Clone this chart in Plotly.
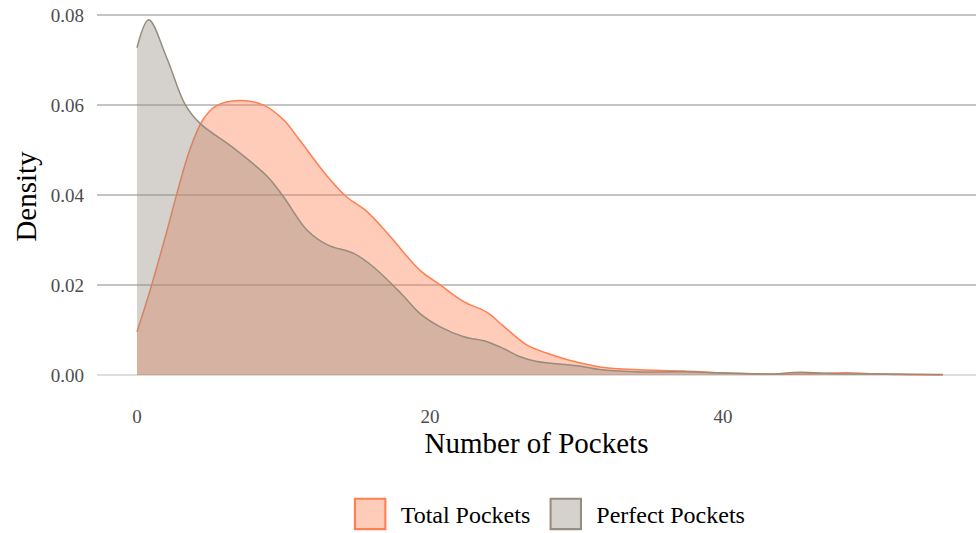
import plotly.graph_objects as go

total_x = [0, 0.9, 2, 2.7, 3.6, 4.5, 5.4, 7, 8.6, 10, 11.1, 13, 14.3, 15.7, 17.3, 19.3, 20.7, 22.3, 23.9, 25.0, 26.6, 28.4, 30.2, 31.6, 33.9, 37.3, 39.6, 43, 45.3, 47, 48.5, 50, 52, 55]
total_y = [0.0096, 0.0189, 0.0315, 0.04, 0.05, 0.0567, 0.0598, 0.061, 0.06, 0.0567, 0.0522, 0.0441, 0.0396, 0.0363, 0.0307, 0.0233, 0.02, 0.0163, 0.0139, 0.0109, 0.0067, 0.0044, 0.0027, 0.0018, 0.0012, 0.0009, 0.0005, 0.0002, 0.0002, 0.0004, 0.0005, 0.0003, 0.0001, 0.0]

perfect_x = [0, 0.8, 2, 3.3, 4.3, 6.6, 8.9, 10, 11.6, 13, 14.8, 16.1, 18, 19.3, 20.7, 22.3, 23.9, 25.0, 26.1, 27.3, 30.2, 31.6, 33.9, 37.3, 39.6, 43, 45.3, 47.6, 51.6, 55]
perfect_y = [0.0727, 0.0789, 0.0707, 0.06, 0.0559, 0.0504, 0.0441, 0.0396, 0.0322, 0.0289, 0.027, 0.0241, 0.0182, 0.0137, 0.0107, 0.0085, 0.0074, 0.0059, 0.0041, 0.003, 0.002, 0.0012, 0.0007, 0.0007, 0.0005, 0.0002, 0.0006, 0.0003, 0.0002, 0.0001]

x_ticks = [0, 20, 40]
y_ticks = [0.0, 0.02, 0.04, 0.06, 0.08]
y_tick_labels = ["0.00", "0.02", "0.04", "0.06", "0.08"]

FONT = "Liberation Serif"
ORANGE = "#FF7F50"
ORANGE_FILL = "rgba(255,127,80,0.4)"
GRAY = "#968C7F"
GRAY_FILL = "rgba(150,140,127,0.4)"

fig = go.Figure()
fig.add_trace(go.Scatter(
    x=total_x, y=total_y, name="Total Pockets", mode="lines", showlegend=False,
    line=dict(color=ORANGE, width=1.5, shape="spline", smoothing=1.0),
    fill="tozeroy", fillcolor=ORANGE_FILL,
))
fig.add_trace(go.Scatter(
    x=perfect_x, y=perfect_y, name="Perfect Pockets", mode="lines", showlegend=False,
    line=dict(color=GRAY, width=1.5, shape="spline", smoothing=1.0),
    fill="tozeroy", fillcolor=GRAY_FILL,
))
# legend keys (square swatches like the reference)
for name, fc, lc in [("Total Pockets", ORANGE_FILL, ORANGE), ("Perfect Pockets", GRAY_FILL, GRAY)]:
    fig.add_trace(go.Scatter(
        x=[None], y=[None], name=name, mode="markers",
        marker=dict(symbol="square", size=16, color=fc, line=dict(color=lc, width=1.1)),
    ))

fig.update_layout(
    width=976, height=533,
    margin=dict(l=97, r=0, t=0, b=140),
    plot_bgcolor="white", paper_bgcolor="white",
    font=dict(family=FONT, color="black"),
    showlegend=True,
    legend=dict(orientation="h", xref="container", yref="container",
                x=0.348, xanchor="left", y=0.035, yanchor="middle",
                font=dict(family=FONT, size=24, color="black"), itemwidth=51,
                tracegroupgap=0),
    xaxis=dict(
        range=[-2.73, 57.27], tickvals=x_ticks, showgrid=False, zeroline=False,
        showline=False, ticks="", ticklabelstandoff=10, automargin=False,
        tickfont=dict(family=FONT, size=19, color="#4D4D4D"),
        title=dict(text="Number of Pockets", font=dict(family=FONT, size=29, color="black"), standoff=4),
    ),
    yaxis=dict(
        range=[-0.004, 0.0833], tickvals=y_ticks, ticktext=y_tick_labels,
        showgrid=True, gridcolor="#C4C4C4", gridwidth=2,
        zeroline=True, zerolinecolor="#DDDDDD", zerolinewidth=2,
        showline=False, ticks="", ticklabelstandoff=12, automargin=False,
        tickfont=dict(family=FONT, size=19, color="#4D4D4D"),
        title=dict(text="Density", font=dict(family=FONT, size=29, color="black"), standoff=5),
    ),
)

post = (
    "document.body.style.margin='0';"
    "document.body.style.overflow='hidden';"
    "document.querySelectorAll('.legend .scatterpts').forEach(function(p){"
    "p.setAttribute('transform',(p.getAttribute('transform')||'')+' scale(1.9)');});"
)

fig.write_html("out.html", post_script=post, config={"displayModeBar": False})
